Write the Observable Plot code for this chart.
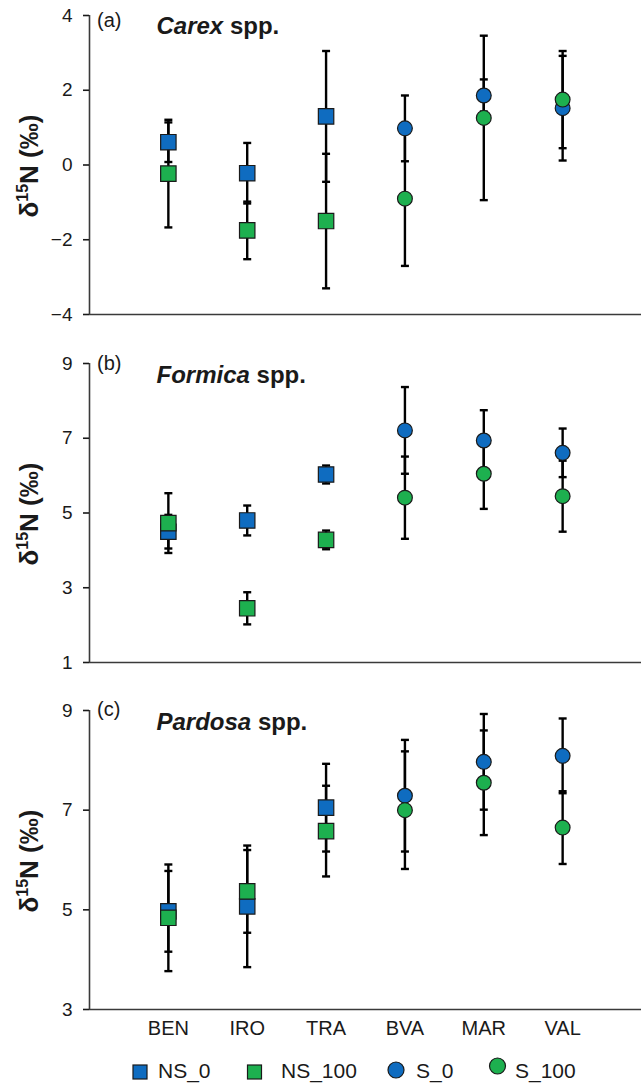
<!DOCTYPE html>
<html><head><meta charset="utf-8">
<script src="https://cdn.jsdelivr.net/npm/d3@7"></script>
<script src="https://cdn.jsdelivr.net/npm/@observablehq/plot@0.6"></script>
<style>
body{margin:0;background:#fff;}
#chart{width:641px;position:relative;font-family:'Liberation Sans',Arial,sans-serif;}
#chart svg{display:block;}
</style></head><body><div id="chart"></div>
<script>
const sites = ["BEN","IRO","TRA","BVA","MAR","VAL"];
const nsSites = ["BEN","IRO","TRA"];
const sSites = ["BVA","MAR","VAL"];
const seriesNames = ["NS_0","NS_100","S_0","S_100"];
const seriesColors = ["#0f6cc0","#1db04f","#0f6cc0","#1db04f"];

// (a) Carex spp.
const carexNS0 = [0.61, -0.22, 1.30];   const carexNS0Err = [0.53, 0.81, 1.75];
const carexNS100 = [-0.23, -1.75, -1.50]; const carexNS100Err = [1.44, 0.77, 1.80];
const carexS0 = [0.98, 1.86, 1.52];     const carexS0Err = [0.88, 0.43, 1.40];
const carexS100 = [-0.90, 1.26, 1.75];  const carexS100Err = [1.80, 2.20, 1.30];
const carexTicks = [-4, -2, 0, 2, 4];

// (b) Formica spp.
const formicaNS0 = [4.50, 4.80, 6.03];  const formicaNS0Err = [0.45, 0.40, 0.24];
const formicaNS100 = [4.73, 2.45, 4.28]; const formicaNS100Err = [0.80, 0.43, 0.25];
const formicaS0 = [7.21, 6.94, 6.61];   const formicaS0Err = [1.16, 0.81, 0.65];
const formicaS100 = [5.41, 6.05, 5.45]; const formicaS100Err = [1.10, 0.94, 0.95];
const formicaTicks = [1, 3, 5, 7, 9];

// (c) Pardosa spp.
const pardosaNS0 = [4.97, 5.07, 7.05];  const pardosaNS0Err = [0.81, 1.22, 0.88];
const pardosaNS100 = [4.84, 5.37, 6.58]; const pardosaNS100Err = [1.07, 0.83, 0.91];
const pardosaS0 = [7.29, 7.97, 8.09];   const pardosaS0Err = [1.12, 0.96, 0.75];
const pardosaS100 = [7.00, 7.55, 6.65]; const pardosaS100Err = [1.18, 1.05, 0.73];
const pardosaTicks = [3, 5, 7, 9];

function buildRows(ns0, ns0e, ns100, ns100e, s0, s0e, s100, s100e) {
  const rows = [];
  const add = (names, vals, errs, series) => names.forEach((s, i) => rows.push({site: s, series, mean: vals[i], err: errs[i]}));
  add(nsSites, ns0, ns0e, "NS_0");
  add(nsSites, ns100, ns100e, "NS_100");
  add(sSites, s0, s0e, "S_0");
  add(sSites, s100, s100e, "S_100");
  return rows;
}

const panels = [
  {letter: "(a)", genus: "Carex", rows: buildRows(carexNS0, carexNS0Err, carexNS100, carexNS100Err, carexS0, carexS0Err, carexS100, carexS100Err),
   domain: [-4, 4], ticks: carexTicks, height: 330, mt: 15, mb: 16, letterY: 27, titleY: 34, showX: false},
  {letter: "(b)", genus: "Formica", rows: buildRows(formicaNS0, formicaNS0Err, formicaNS100, formicaNS100Err, formicaS0, formicaS0Err, formicaS100, formicaS100Err),
   domain: [1, 9], ticks: formicaTicks, height: 350, mt: 33, mb: 18, letterY: 39.5, titleY: 53, showX: false},
  {letter: "(c)", genus: "Pardosa", rows: buildRows(pardosaNS0, pardosaNS0Err, pardosaNS100, pardosaNS100Err, pardosaS0, pardosaS0Err, pardosaS100, pardosaS100Err),
   domain: [3, 9], ticks: pardosaTicks, height: 365, mt: 30, mb: 36, letterY: 35.5, titleY: 50, showX: true}
];

const axisColor = "#3a3a3a";
const capSymbol = {draw(ctx, size) { const w = Math.sqrt(size / Math.PI); ctx.moveTo(-w, 0); ctx.lineTo(w, 0); }};
const xi = d => sites.indexOf(d.site);
const fmtY = d => d < 0 ? "\u2212" + Math.abs(d) : String(d);
const chart = document.getElementById("chart");

for (const p of panels) {
  const data = p.rows;
  const marks = [
    Plot.ruleX([-1], {stroke: axisColor, strokeWidth: 1.6}),
    Plot.ruleY([p.domain[0]], {stroke: axisColor, strokeWidth: 1.6}),
    Plot.axisY(p.ticks, {tickSize: 6, tickPadding: 11, fontSize: 19, label: null, strokeWidth: 1.6, tickFormat: fmtY}),
    Plot.ruleX(data, {x: xi, y1: d => d.mean - d.err, y2: d => d.mean + d.err, stroke: "#000", strokeWidth: 2.4}),
    Plot.dot(data, {x: xi, y: d => d.mean - d.err, symbol: capSymbol, r: 4, fill: "none", stroke: "#000", strokeWidth: 2.4}),
    Plot.dot(data, {x: xi, y: d => d.mean + d.err, symbol: capSymbol, r: 4, fill: "none", stroke: "#000", strokeWidth: 2.4}),
    Plot.dot(data.filter(d => d.series.startsWith("NS")), {x: xi, y: "mean", symbol: "square", r: 8.7, fill: "series", stroke: "#1a1a1a", strokeWidth: 1.2}),
    Plot.dot(data.filter(d => d.series.startsWith("S_")), {x: xi, y: "mean", symbol: "circle", r: 7.4, fill: "series", stroke: "#1a1a1a", strokeWidth: 1.2})
  ];
  if (p.showX) marks.push(Plot.axisX(d3.range(sites.length), {tickSize: 0, tickPadding: 11, fontSize: 20, tickFormat: i => sites[i], label: null}));
  const svg = Plot.plot({
    width: 641, height: p.height,
    marginLeft: 89, marginRight: 0, marginTop: p.mt, marginBottom: p.mb,
    x: p.showX ? {domain: [-1, 6]} : {domain: [-1, 6], axis: null},
    y: {domain: p.domain},
    color: {domain: seriesNames, range: seriesColors},
    style: {fontFamily: "'Liberation Sans', Arial, sans-serif", fontSize: "19px", color: "#1a1a1a", background: "#fff", overflow: "visible"},
    marks
  });
  const s = d3.select(svg);
  const cy = p.mt + (p.height - p.mt - p.mb) / 2 + 1.5;
  const yl = s.append("text")
    .attr("transform", `translate(38,${cy}) rotate(-90)`)
    .attr("text-anchor", "middle")
    .attr("font-weight", "bold").attr("font-size", 26).attr("fill", "#1a1a1a");
  yl.append("tspan").text("δ");
  yl.append("tspan").attr("font-size", 16).attr("dy", -10).text("15");
  yl.append("tspan").attr("dy", 10).text("N (‰)");
  s.append("text").attr("x", 97).attr("y", p.letterY).attr("text-anchor", "start")
    .attr("font-size", 20).attr("fill", "#1a1a1a").text(p.letter);
  const t = s.append("text").attr("x", 156.5).attr("y", p.titleY).attr("text-anchor", "start")
    .attr("font-size", 24).attr("font-weight", "bold").attr("fill", "#1a1a1a");
  t.append("tspan").attr("font-style", "italic").text(p.genus);
  t.append("tspan").text(" spp.");
  chart.appendChild(svg);
}

// legend
const legendItems = [
  {name: "NS_0", shape: "square", cx: 140, cy: 27, tx: 158},
  {name: "NS_100", shape: "square", cx: 254.5, cy: 27, tx: 281},
  {name: "S_0", shape: "circle", cx: 396, cy: 25, tx: 416},
  {name: "S_100", shape: "circle", cx: 497.5, cy: 21, tx: 515}
];
const lg = d3.create("svg").attr("width", 641).attr("height", 38)
  .style("font-family", "'Liberation Sans', Arial, sans-serif");
legendItems.forEach((it) => {
  const col = seriesColors[seriesNames.indexOf(it.name)];
  if (it.shape === "square") {
    lg.append("rect").attr("x", it.cx - 7).attr("y", it.cy - 7).attr("width", 14).attr("height", 14)
      .attr("fill", col).attr("stroke", "#1a1a1a").attr("stroke-width", 1.2);
  } else {
    lg.append("circle").attr("cx", it.cx).attr("cy", it.cy).attr("r", 8)
      .attr("fill", col).attr("stroke", "#1a1a1a").attr("stroke-width", 1.2);
  }
  lg.append("text").attr("x", it.tx).attr("y", 33).attr("font-size", 21).attr("fill", "#1a1a1a").text(it.name);
});
chart.appendChild(lg.node());
</script></body></html>
